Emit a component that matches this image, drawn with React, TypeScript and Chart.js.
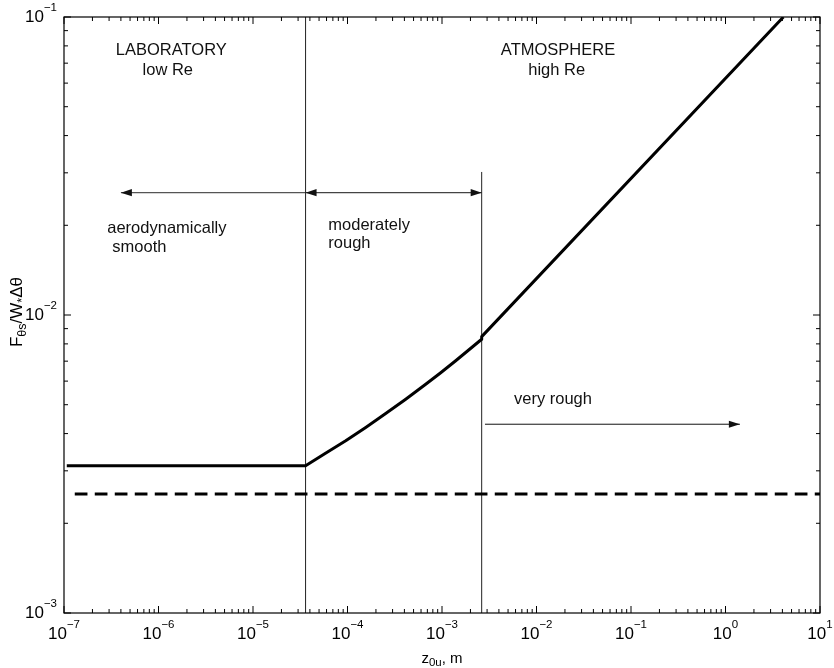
import React, { useEffect, useRef } from "react";
import { Chart, registerables } from "chart.js";

Chart.register(...registerables);

// ---- axes ----
const X_MIN = 1e-7;
const X_MAX = 10;
const Y_MIN = 1e-3;
const Y_MAX = 1e-1;
const X_TICK_EXPONENTS = [-7, -6, -5, -4, -3, -2, -1, 0, 1];
const Y_TICK_EXPONENTS = [-3, -2, -1];

// ---- main solid curve ----
const curveX = [1.07e-7, 3.6e-5, 5.74e-5, 9.57e-5, 1.558e-4, 2.535e-4, 4.13e-4, 6.72e-4, 9.69e-4, 1.396e-3, 2.63e-3, 2.63e-3, 4.1];
const curveY = [3.12e-3, 3.12e-3, 3.425e-3, 3.783e-3, 4.194e-3, 4.669e-3, 5.218e-3, 5.855e-3, 6.4e-3, 7.021e-3, 8.29e-3, 8.46e-3, 0.1];

// ---- dashed limit line ----
const limitX = [1.3e-7, 10];
const limitY = [2.51e-3, 2.51e-3];

// ---- regime boundaries ----
const boundary1X = [3.6e-5, 3.6e-5];
const boundary1Y = [1e-3, 1e-1];
const boundary2X = [2.63e-3, 2.63e-3];
const boundary2Y = [1e-3, 0.0302];

// ---- arrows ----
const smoothArrowX = [3.6e-5, 4.0e-7];
const smoothArrowY = [0.02573, 0.02573];
const moderateArrowX = [3.6e-5, 2.63e-3];
const moderateArrowY = [0.02573, 0.02573];
const veryRoughArrowX = [2.85e-3, 1.42];
const veryRoughArrowY = [0.0043, 0.0043];

// ---- annotations ----
const annotationTexts = ["LABORATORY", "low Re", "ATMOSPHERE", "high Re", "aerodynamically", "smooth", "moderately", "rough", "very rough"];
const annotationX = [1.365e-6, 1.254e-6, 0.01689, 0.01636, 2.87e-7, 3.25e-7, 6.27e-5, 6.27e-5, 5.78e-3];
const annotationY = [0.07458, 0.06387, 0.07458, 0.06387, 0.0188, 0.01631, 0.01929, 0.01674, 0.005027];
const annotationAlign = ["center", "center", "center", "center", "left", "left", "left", "left", "left"];

const FONT = "'Liberation Sans', Arial, Helvetica, sans-serif";

const zip = (xs: number[], ys: number[]) => xs.map((x, i) => ({ x, y: ys[i] }));

const decorPlugin = {
  id: "decor",
  afterDatasetsDraw(chart: any) {
    const { ctx, chartArea: a, scales } = chart;
    const xs = scales.x;
    const ys = scales.y;
    ctx.save();

    // arrowheads
    chart.data.datasets.forEach((ds: any) => {
      const heads: string[] | undefined = ds.arrowHeads;
      if (!heads) return;
      const pts = ds.data;
      const drawHead = (from: any, to: any) => {
        const x1 = xs.getPixelForValue(from.x);
        const y1 = ys.getPixelForValue(from.y);
        const x2 = xs.getPixelForValue(to.x);
        const y2 = ys.getPixelForValue(to.y);
        const ang = Math.atan2(y2 - y1, x2 - x1);
        const L = 11;
        const W = 3.6;
        const c = Math.cos(ang);
        const s = Math.sin(ang);
        ctx.beginPath();
        ctx.moveTo(x2, y2);
        ctx.lineTo(x2 - L * c + W * s, y2 - L * s - W * c);
        ctx.lineTo(x2 - L * c - W * s, y2 - L * s + W * c);
        ctx.closePath();
        ctx.fillStyle = ds.arrowColor || ds.borderColor;
        ctx.fill();
      };
      if (heads.includes("end")) drawHead(pts[0], pts[pts.length - 1]);
      if (heads.includes("start")) drawHead(pts[pts.length - 1], pts[0]);
    });

    // box
    ctx.strokeStyle = "#000";
    ctx.lineWidth = 1.2;
    ctx.strokeRect(a.left, a.top, a.right - a.left, a.bottom - a.top);

    // ticks
    ctx.lineWidth = 1;
    ctx.beginPath();
    for (let e = X_TICK_EXPONENTS[0]; e <= X_TICK_EXPONENTS[X_TICK_EXPONENTS.length - 1]; e++) {
      for (let m = 1; m <= 9; m++) {
        const v = m * Math.pow(10, e);
        if (v < X_MIN * 0.999 || v > X_MAX * 1.001) continue;
        const px = xs.getPixelForValue(v);
        const len = m === 1 ? 7 : 4;
        ctx.moveTo(px, a.bottom);
        ctx.lineTo(px, a.bottom - len);
        ctx.moveTo(px, a.top);
        ctx.lineTo(px, a.top + len);
      }
    }
    for (let e = Y_TICK_EXPONENTS[0]; e <= Y_TICK_EXPONENTS[Y_TICK_EXPONENTS.length - 1]; e++) {
      for (let m = 1; m <= 9; m++) {
        const v = m * Math.pow(10, e);
        if (v < Y_MIN * 0.999 || v > Y_MAX * 1.001) continue;
        const py = ys.getPixelForValue(v);
        const len = m === 1 ? 7 : 4;
        ctx.moveTo(a.left, py);
        ctx.lineTo(a.left + len, py);
        ctx.moveTo(a.right, py);
        ctx.lineTo(a.right - len, py);
      }
    }
    ctx.stroke();

    // tick labels
    ctx.fillStyle = "#000";
    ctx.textBaseline = "alphabetic";
    ctx.textAlign = "left";
    const baseFont = `17px ${FONT}`;
    const expFont = `11.5px ${FONT}`;
    X_TICK_EXPONENTS.forEach((e) => {
      const px = xs.getPixelForValue(Math.pow(10, e));
      const expStr = e < 0 ? "\u2212" + Math.abs(e) : String(e);
      ctx.font = baseFont;
      const w1 = ctx.measureText("10").width;
      ctx.font = expFont;
      const w2 = ctx.measureText(expStr).width;
      const x0 = px - (w1 + w2) / 2;
      const by = a.bottom + 25.6;
      ctx.font = baseFont;
      ctx.fillText("10", x0, by);
      ctx.font = expFont;
      ctx.fillText(expStr, x0 + w1, by - 11);
    });
    Y_TICK_EXPONENTS.forEach((e) => {
      const py = ys.getPixelForValue(Math.pow(10, e));
      const expStr = e < 0 ? "\u2212" + Math.abs(e) : String(e);
      ctx.font = baseFont;
      const w1 = ctx.measureText("10").width;
      ctx.font = expFont;
      const w2 = ctx.measureText(expStr).width;
      const xr = a.left - 7;
      const x0 = xr - w1 - w2;
      const by = py + 5;
      ctx.font = baseFont;
      ctx.fillText("10", x0, by);
      ctx.font = expFont;
      ctx.fillText(expStr, x0 + w1, by - 11);
    });

    // x axis title: z_{0u}, m
    {
      const bf = `15px ${FONT}`;
      const sf = `11.5px ${FONT}`;
      const parts = [
        { t: "z", f: bf, dy: 0 },
        { t: "0u", f: sf, dy: 3.5 },
        { t: ", m", f: bf, dy: 0 },
      ];
      let total = 0;
      parts.forEach((p) => {
        ctx.font = p.f;
        total += ctx.measureText(p.t).width;
      });
      let cx = (a.left + a.right) / 2 - total / 2;
      const by = a.bottom + 49.5;
      parts.forEach((p) => {
        ctx.font = p.f;
        ctx.fillText(p.t, cx, by + p.dy);
        cx += ctx.measureText(p.t).width;
      });
    }

    // y axis title: F_{θs}/W_{*}Δθ
    {
      const bf = `17px ${FONT}`;
      const sf = `12.5px ${FONT}`;
      const parts = [
        { t: "F", f: bf, dy: 0 },
        { t: "\u03B8s", f: sf, dy: 4 },
        { t: "/W", f: bf, dy: 0 },
        { t: "*", f: sf, dy: 4 },
        { t: "\u0394\u03B8", f: bf, dy: 0 },
      ];
      let total = 0;
      parts.forEach((p) => {
        ctx.font = p.f;
        total += ctx.measureText(p.t).width;
      });
      ctx.save();
      ctx.translate(22, 312);
      ctx.rotate(-Math.PI / 2);
      let cx = -total / 2;
      parts.forEach((p) => {
        ctx.font = p.f;
        ctx.fillText(p.t, cx, p.dy);
        cx += ctx.measureText(p.t).width;
      });
      ctx.restore();
    }

    // annotations
    ctx.font = `16.5px ${FONT}`;
    ctx.fillStyle = "#111";
    annotationTexts.forEach((t, i) => {
      ctx.textAlign = annotationAlign[i] as CanvasTextAlign;
      ctx.fillText(t, xs.getPixelForValue(annotationX[i]), ys.getPixelForValue(annotationY[i]));
    });

    ctx.restore();
  },
};

export default function App() {
  const canvasRef = useRef<HTMLCanvasElement | null>(null);

  useEffect(() => {
    if (!canvasRef.current) return;
    const thin = { borderWidth: 1, borderColor: "#333", pointRadius: 0, showLine: true, fill: false };
    const chart = new Chart(canvasRef.current, {
      type: "scatter",
      data: {
        datasets: [
          { ...thin, data: zip(curveX, curveY), borderColor: "#000", borderWidth: 3, borderJoinStyle: "round" } as any,
          { ...thin, data: zip(limitX, limitY), borderColor: "#000", borderWidth: 3, borderDash: [12.7, 7.3] } as any,
          { ...thin, data: zip(boundary1X, boundary1Y), borderColor: "#222" } as any,
          { ...thin, data: zip(boundary2X, boundary2Y), borderColor: "#222" } as any,
          { ...thin, data: zip(smoothArrowX, smoothArrowY), borderColor: "#555", borderWidth: 1.2, arrowHeads: ["end"], arrowColor: "#111" } as any,
          { ...thin, data: zip(moderateArrowX, moderateArrowY), borderColor: "#444", borderWidth: 1.2, arrowHeads: ["start", "end"], arrowColor: "#111" } as any,
          { ...thin, data: zip(veryRoughArrowX, veryRoughArrowY), borderColor: "#111", borderWidth: 1, arrowHeads: ["end"], arrowColor: "#111" } as any,
        ],
      },
      options: {
        responsive: false,
        animation: false,
        devicePixelRatio: 1,
        layout: { padding: { left: 64, top: 17, right: 14, bottom: 55 } },
        elements: { line: { tension: 0 }, point: { radius: 0 } },
        plugins: { legend: { display: false }, tooltip: { enabled: false } },
        scales: {
          x: { type: "logarithmic", min: X_MIN, max: X_MAX, display: false },
          y: { type: "logarithmic", min: Y_MIN, max: Y_MAX, display: false },
        },
      },
      plugins: [decorPlugin],
    });
    return () => chart.destroy();
  }, []);

  return (
    <div style={{ position: "absolute", left: 0, top: 0, width: 834, height: 668, background: "#fff" }}>
      <canvas ref={canvasRef} width={834} height={668} />
    </div>
  );
}
